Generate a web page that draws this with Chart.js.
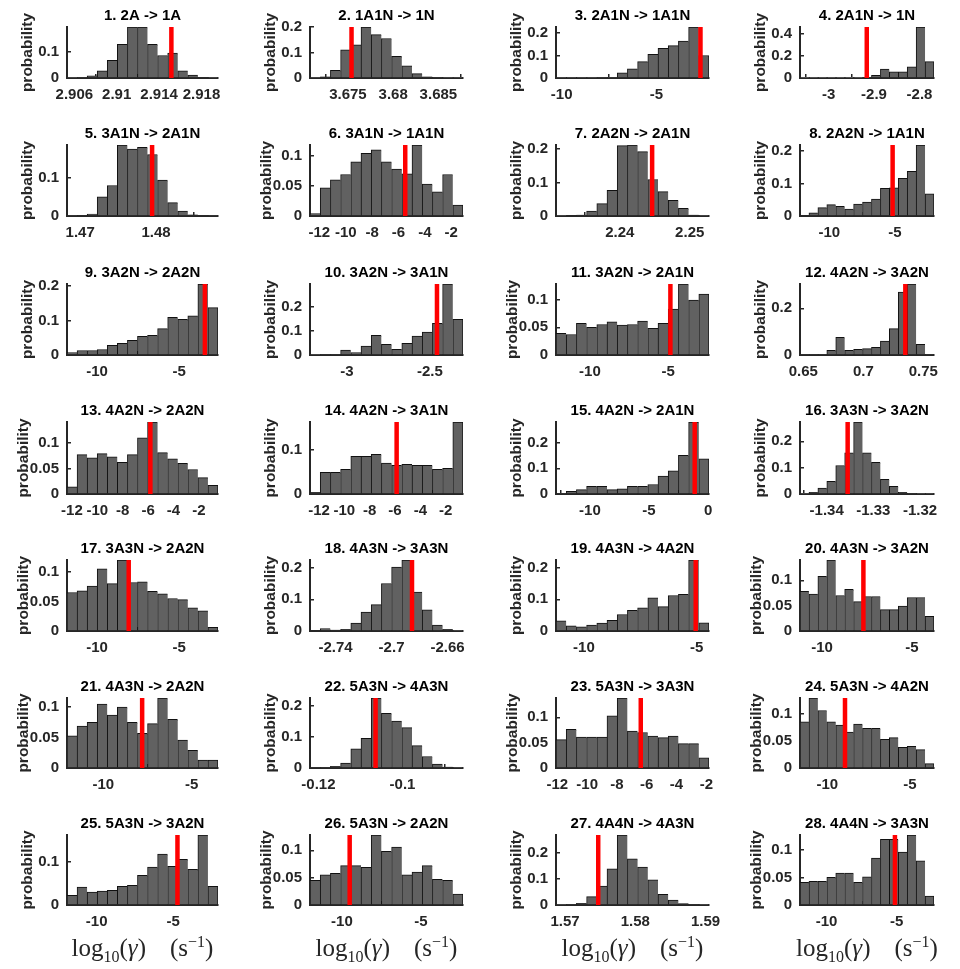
<!DOCTYPE html>
<html lang="en">
<head>
    <meta charset="UTF-8">
    <title>Rate histograms</title>
    <script src="https://cdn.jsdelivr.net/npm/chart.js"></script>
    <style>
        body {
            margin: 0;
            background: #fff;
        }
        #fig {
            position: relative;
            width: 960px;
            height: 969px;
            background: #fff;
            overflow: hidden;
        }
        #fig canvas {
            position: absolute;
        }
        .xlabel {
            position: absolute;
            font-family: 'Liberation Serif', 'DejaVu Serif', serif;
            font-size: 25px;
            line-height: 1;
            color: #262626;
            text-align: center;
            white-space: nowrap;
        }
        .xlabel sub, .xlabel sup {
            font-size: 16px;
            line-height: 0;
        }
        .xlabel .unit {
            margin-left: 24px;
        }
    </style>
</head>
<body>
    <div id="fig"></div>
    <script>
        const titles = [
            '1. 2A -> 1A', '2. 1A1N -> 1N', '3. 2A1N -> 1A1N', '4. 2A1N -> 1N',
            '5. 3A1N -> 2A1N', '6. 3A1N -> 1A1N', '7. 2A2N -> 2A1N', '8. 2A2N -> 1A1N',
            '9. 3A2N -> 2A2N', '10. 3A2N -> 3A1N', '11. 3A2N -> 2A1N', '12. 4A2N -> 3A2N',
            '13. 4A2N -> 2A2N', '14. 4A2N -> 3A1N', '15. 4A2N -> 2A1N', '16. 3A3N -> 3A2N',
            '17. 3A3N -> 2A2N', '18. 4A3N -> 3A3N', '19. 4A3N -> 4A2N', '20. 4A3N -> 3A2N',
            '21. 4A3N -> 2A2N', '22. 5A3N -> 4A3N', '23. 5A3N -> 3A3N', '24. 5A3N -> 4A2N',
            '25. 5A3N -> 3A2N', '26. 5A3N -> 2A2N', '27. 4A4N -> 4A3N', '28. 4A4N -> 3A3N'
        ];

        // histogram bin range (first edge, last edge) per panel
        const xLo = [2.90531, 3.67081, -10.30, -3.063, 1.46826, -12.71, 2.23086, -12.23,
                     -11.83, -3.223, -12.17, 0.6472, -12.39, -12.71, -12.87, -1.34571,
                     -11.83, -2.7582, -11.24, -11.22, -12.05, -0.122, -12.09, -11.65,
                     -11.94, -12.02, 1.56872, -11.9];
        const xHi = [2.91956, 3.68772, -2.23, -2.768, 1.48817, -1.11, 2.25276, -2.03,
                     -2.63, -2.30, -2.38, 0.7589, -0.49, -0.63, 0.08, -1.317,
                     -2.63, -2.649, -4.45, -3.78, -3.51, -0.0856, -1.82, -3.55,
                     -2.07, -2.34, 1.5905, -2.33];

        // red reference value per panel
        const redX = [2.91516, 3.6754, -2.68, -2.916, 1.47948, -5.49, 2.24462, -5.18,
                      -3.43, -2.457, -4.85, 0.735, -5.82, -5.87, -1.13, -1.3355,
                      -8.07, -2.6854, -5.04, -7.7, -7.8, -0.1064, -6.4, -8.93,
                      -4.72, -9.51, 1.57473, -5.12];

        const xTickVals = [
            [2.906, 2.91, 2.914, 2.918], [3.675, 3.68, 3.685], [-10, -5], [-3, -2.9, -2.8],
            [1.47, 1.48], [-12, -10, -8, -6, -4, -2], [2.24, 2.25], [-10, -5],
            [-10, -5], [-3, -2.5], [-10, -5], [0.65, 0.7, 0.75],
            [-12, -10, -8, -6, -4, -2], [-12, -10, -8, -6, -4, -2], [-10, -5, 0], [-1.34, -1.33, -1.32],
            [-10, -5], [-2.74, -2.7, -2.66], [-10, -5], [-10, -5],
            [-10, -5], [-0.12, -0.1], [-12, -10, -8, -6, -4, -2], [-10, -5],
            [-10, -5], [-10, -5], [1.57, 1.58, 1.59], [-10, -5]
        ];

        const yTickVals = [
            [0, 0.1], [0, 0.1, 0.2], [0, 0.1, 0.2], [0, 0.2, 0.4],
            [0, 0.1], [0, 0.05, 0.1], [0, 0.1, 0.2], [0, 0.1, 0.2],
            [0, 0.1, 0.2], [0, 0.1, 0.2], [0, 0.05, 0.1], [0, 0.2],
            [0, 0.05, 0.1], [0, 0.1], [0, 0.1, 0.2], [0, 0.1, 0.2],
            [0, 0.05, 0.1], [0, 0.1, 0.2], [0, 0.1, 0.2], [0, 0.05, 0.1],
            [0, 0.05, 0.1], [0, 0.1, 0.2], [0, 0.05, 0.1], [0, 0.05, 0.1],
            [0, 0.1], [0, 0.05, 0.1], [0, 0.1, 0.2], [0, 0.05, 0.1]
        ];

        const probs = [
            [0.001, 0.002, 0.008, 0.028, 0.068, 0.13, 0.197, 0.197, 0.13, 0.087, 0.096, 0.028, 0.011, 0.003, 0.001],
            [0.001, 0.005, 0.03, 0.11, 0.13, 0.2, 0.17, 0.155, 0.085, 0.048, 0.017, 0.005, 0.002, 0.001, 0.001],
            [0.001, 0.001, 0.001, 0.001, 0.002, 0.002, 0.023, 0.041, 0.073, 0.105, 0.132, 0.144, 0.164, 0.227, 0.10],
            [0.001, 0.001, 0.001, 0.001, 0.001, 0.001, 0.001, 0.005, 0.025, 0.08, 0.055, 0.055, 0.10, 0.46, 0.148],
            [0.001, 0.002, 0.005, 0.05, 0.08, 0.186, 0.175, 0.18, 0.161, 0.094, 0.035, 0.013, 0.003, 0.002, 0.001],
            [0.004, 0.047, 0.06, 0.069, 0.09, 0.104, 0.11, 0.09, 0.078, 0.07, 0.118, 0.053, 0.04, 0.069, 0.018],
            [0.001, 0.002, 0.003, 0.015, 0.037, 0.077, 0.21, 0.212, 0.192, 0.109, 0.073, 0.047, 0.023, 0.003, 0.001],
            [0.002, 0.01, 0.026, 0.035, 0.03, 0.021, 0.037, 0.043, 0.052, 0.085, 0.087, 0.116, 0.138, 0.219, 0.068],
            [0.007, 0.013, 0.013, 0.016, 0.028, 0.034, 0.042, 0.054, 0.057, 0.076, 0.109, 0.103, 0.113, 0.205, 0.137],
            [0.001, 0.002, 0.002, 0.02, 0.01, 0.037, 0.082, 0.045, 0.024, 0.049, 0.079, 0.096, 0.132, 0.296, 0.149],
            [0.039, 0.037, 0.057, 0.05, 0.055, 0.06, 0.054, 0.055, 0.061, 0.048, 0.057, 0.083, 0.128, 0.099, 0.11],
            [0.002, 0.002, 0.002, 0.02, 0.076, 0.02, 0.024, 0.027, 0.033, 0.06, 0.113, 0.269, 0.304, 0.046, 0.002],
            [0.014, 0.077, 0.071, 0.079, 0.073, 0.062, 0.077, 0.11, 0.141, 0.081, 0.069, 0.06, 0.048, 0.032, 0.017],
            [0.004, 0.049, 0.049, 0.056, 0.085, 0.085, 0.09, 0.07, 0.065, 0.067, 0.065, 0.065, 0.056, 0.058, 0.163],
            [0.002, 0.01, 0.017, 0.03, 0.03, 0.017, 0.02, 0.03, 0.03, 0.037, 0.07, 0.09, 0.15, 0.28, 0.137],
            [0.001, 0.006, 0.022, 0.048, 0.108, 0.156, 0.273, 0.156, 0.12, 0.056, 0.029, 0.006, 0.002, 0.001, 0.001],
            [0.065, 0.068, 0.076, 0.105, 0.08, 0.12, 0.082, 0.083, 0.067, 0.063, 0.055, 0.053, 0.039, 0.034, 0.006],
            [0.002, 0.008, 0.003, 0.005, 0.025, 0.06, 0.083, 0.15, 0.202, 0.224, 0.123, 0.067, 0.019, 0.005, 0.001],
            [0.032, 0.016, 0.013, 0.019, 0.025, 0.034, 0.052, 0.065, 0.073, 0.105, 0.077, 0.112, 0.116, 0.224, 0.026],
            [0.078, 0.073, 0.108, 0.14, 0.07, 0.082, 0.058, 0.068, 0.068, 0.042, 0.042, 0.049, 0.066, 0.066, 0.029],
            [0.053, 0.069, 0.075, 0.105, 0.087, 0.1, 0.075, 0.057, 0.073, 0.115, 0.08, 0.046, 0.029, 0.013, 0.013],
            [0.002, 0.002, 0.005, 0.016, 0.062, 0.095, 0.225, 0.176, 0.151, 0.13, 0.072, 0.037, 0.013, 0.003, 0.001],
            [0.056, 0.076, 0.061, 0.061, 0.061, 0.103, 0.138, 0.073, 0.07, 0.063, 0.06, 0.063, 0.048, 0.048, 0.02],
            [0.085, 0.129, 0.106, 0.085, 0.079, 0.066, 0.081, 0.073, 0.073, 0.053, 0.056, 0.038, 0.04, 0.034, 0.008],
            [0.022, 0.041, 0.03, 0.032, 0.034, 0.043, 0.045, 0.068, 0.087, 0.117, 0.089, 0.105, 0.082, 0.161, 0.043],
            [0.045, 0.055, 0.058, 0.072, 0.072, 0.069, 0.128, 0.098, 0.106, 0.055, 0.06, 0.072, 0.047, 0.045, 0.02],
            [0.001, 0.002, 0.006, 0.032, 0.072, 0.138, 0.267, 0.176, 0.145, 0.096, 0.041, 0.019, 0.005, 0.002, 0.001],
            [0.041, 0.043, 0.043, 0.05, 0.058, 0.058, 0.041, 0.051, 0.085, 0.119, 0.119, 0.096, 0.127, 0.08, 0.016]
        ];

        // panel plot-area edges in page pixels
        const colLeft = [67, 310, 556, 800];
        const colRight = [218, 463, 709, 934];
        const rowTop = [27, 145, 284, 422, 560, 698, 835];
        const rowBottom = [78, 216, 355, 494, 631, 768, 905];

        const TITLE_H = 19;
        const XAXIS_H = 30;
        const PAD_R = 28;
        const AXIS = '#262626';

        Chart.defaults.font.family = "'Liberation Sans', Arial, sans-serif";
        Chart.defaults.color = AXIS;

        const fig = document.getElementById('fig');

        function makePanel(k) {
            const col = k % 4;
            const row = Math.floor(k / 4);
            const plotW = colRight[col] - colLeft[col];
            const plotH = rowBottom[row] - rowTop[row];
            const wide = yTickVals[k].some(v => String(v).length > 3);
            const yW = wide ? 51 : 47;

            const w = yW + plotW + PAD_R;
            const h = TITLE_H + plotH + XAXIS_H;
            const cv = document.createElement('canvas');
            cv.width = w;
            cv.height = h;
            cv.style.left = (colLeft[col] - yW) + 'px';
            cv.style.top = (rowTop[row] - TITLE_H) + 'px';
            cv.style.width = w + 'px';
            cv.style.height = h + 'px';
            fig.appendChild(cv);

            const n = probs[k].length;
            const binW = (xHi[k] - xLo[k]) / n;
            const bars = probs[k].map((p, i) => ({ x: xLo[k] + (i + 0.5) * binW, y: p }));
            const yMax = Math.max(...probs[k]);

            new Chart(cv, {
                type: 'bar',
                data: {
                    datasets: [
                        {
                            type: 'line',
                            data: [{ x: redX[k], y: 0 }, { x: redX[k], y: yMax }],
                            borderColor: '#ff0000',
                            borderWidth: 4.5,
                            pointRadius: 0,
                            order: 0
                        },
                        {
                            type: 'bar',
                            data: bars,
                            backgroundColor: '#616161',
                            borderColor: '#111111',
                            borderWidth: (c) => c.dataIndex === n - 1
                                ? { top: 1, left: 1, right: 1, bottom: 0 }
                                : { top: 1, left: 1, right: 0, bottom: 0 },
                            borderSkipped: 'start',
                            barPercentage: 1,
                            categoryPercentage: 1,
                            order: 1
                        }
                    ]
                },
                options: {
                    responsive: false,
                    maintainAspectRatio: false,
                    animation: false,
                    events: [],
                    layout: { padding: { left: 0, right: PAD_R, top: 0, bottom: 0 } },
                    plugins: {
                        legend: { display: false },
                        tooltip: { enabled: false },
                        title: {
                            display: true,
                            text: titles[k],
                            fullSize: false,
                            color: '#000',
                            font: { size: 15, weight: 'bold', lineHeight: 1 },
                            padding: { top: 0, bottom: 4 }
                        }
                    },
                    scales: {
                        x: {
                            type: 'linear',
                            min: xLo[k],
                            max: xHi[k],
                            bounds: 'data',
                            offset: false,
                            grid: {
                                display: true,
                                drawOnChartArea: false,
                                drawTicks: true,
                                tickLength: -4,
                                color: AXIS,
                                lineWidth: 1.5
                            },
                            border: { display: true, color: AXIS, width: 2 },
                            ticks: {
                                autoSkip: false,
                                maxRotation: 0,
                                padding: 12,
                                color: AXIS,
                                font: { size: 15, weight: 'bold' },
                                callback: (v, i) => String(xTickVals[k][i])
                            },
                            afterBuildTicks: (s) => {
                                s.ticks = xTickVals[k].map(v => ({ value: v }));
                            },
                            afterFit: (s) => {
                                s.height = XAXIS_H;
                                s.paddingLeft = 0;
                                s.paddingRight = 0;
                            }
                        },
                        y: {
                            min: 0,
                            max: yMax,
                            grid: {
                                display: true,
                                drawOnChartArea: false,
                                drawTicks: true,
                                tickLength: -4,
                                color: AXIS,
                                lineWidth: 1.5
                            },
                            border: { display: true, color: AXIS, width: 2 },
                            ticks: {
                                padding: 12,
                                color: AXIS,
                                font: { size: 15, weight: 'bold' },
                                callback: (v) => String(v)
                            },
                            afterBuildTicks: (s) => {
                                s.ticks = yTickVals[k].filter(v => v <= yMax + 1e-9).map(v => ({ value: v }));
                            },
                            afterFit: (s) => {
                                s.width = yW;
                                s.paddingTop = 0;
                                s.paddingBottom = 0;
                            },
                            title: {
                                display: true,
                                text: 'probability',
                                color: AXIS,
                                font: { size: 15.5, weight: 'bold', lineHeight: 1 },
                                padding: 0
                            }
                        }
                    }
                }
            });
        }

        for (let k = 0; k < titles.length; k++) {
            makePanel(k);
        }

        // x-axis label under the bottom row
        for (let col = 0; col < 4; col++) {
            const lab = document.createElement('div');
            lab.className = 'xlabel';
            lab.style.left = (colLeft[col] - 10) + 'px';
            lab.style.width = (colRight[col] - colLeft[col] + 20) + 'px';
            lab.style.top = '935px';
            lab.innerHTML = 'log<sub>10</sub>(<i>γ</i>)<span class="unit">(s<sup>−1</sup>)</span>';
            fig.appendChild(lab);
        }
    </script>
</body>
</html>
